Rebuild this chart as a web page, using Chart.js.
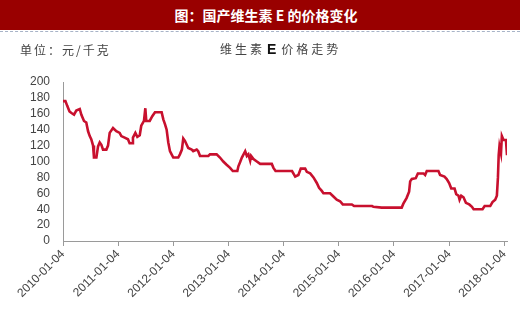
<!DOCTYPE html>
<html>
<head>
<meta charset="utf-8">
<script src="https://cdn.jsdelivr.net/npm/chart.js@4"></script>
<style>
  html, body { margin:0; padding:0; background:#fff; }
  #wrap { position:relative; width:520px; height:315px; overflow:hidden; }
  #banner { position:absolute; left:0; top:0; width:520px; height:30px; background:#990000;
    color:#fff; font:bold 14px "Noto Sans CJK SC", sans-serif; line-height:30px; text-align:center; text-indent:12px; }
  #dash { position:absolute; left:0; top:31px; width:520px; height:0; border-top:1px dashed #a8b4c8; }
  #unit { position:absolute; left:20px; top:41px; font:12px "Noto Sans CJK SC", sans-serif; color:#444; letter-spacing:2px; }
  #sub { position:absolute; left:220px; top:40px; font:12px "Noto Sans CJK SC", sans-serif; color:#444; letter-spacing:3px; }
  #sub b { font:bold 14px "Liberation Sans", Arial, sans-serif; color:#111; letter-spacing:0; margin:0 5px 0 2px; }
  canvas { position:absolute; left:0; top:0; }
</style>
</head>
<body>
<div id="wrap">
  <canvas id="c" width="520" height="315"></canvas>
  <div id="banner">图：国产维生素 E 的价格变化</div>
  <div id="dash"></div>
  <div id="unit">单位：元/千克</div>
  <div id="sub">维生素<b>E</b>价格走势</div>
</div>
<script>
const dates = [
 "2010-01-04","2010-01-20","2010-02-01","2010-02-16","2010-03-01","2010-03-18","2010-04-02","2010-04-25","2010-05-05","2010-05-23",
 "2010-06-07","2010-06-19","2010-06-30","2010-07-10","2010-07-22","2010-07-28","2010-08-13","2010-08-24","2010-09-04","2010-09-15",
 "2010-09-26","2010-10-18","2010-10-29","2010-11-09","2010-12-01","2010-12-23","2011-01-14","2011-01-25","2011-02-16","2011-03-10",
 "2011-03-21","2011-04-06","2011-04-12","2011-04-28","2011-05-11","2011-05-27","2011-06-06","2011-06-24","2011-07-03","2011-07-09",
 "2011-08-01","2011-08-18","2011-09-05","2011-10-19","2011-10-30","2011-11-10","2011-11-21","2011-12-02","2011-12-13","2011-12-24",
 "2012-01-04","2012-02-06","2012-02-17","2012-03-01","2012-03-10","2012-03-21","2012-04-02","2012-04-12","2012-05-05","2012-05-15",
 "2012-06-07","2012-06-17","2012-06-29","2012-08-23","2012-09-03","2012-10-17","2012-11-08","2012-11-30","2012-12-22","2013-01-14",
 "2013-02-01","2013-03-03","2013-03-10","2013-03-21","2013-04-02","2013-04-24","2013-05-05","2013-05-15","2013-05-27","2013-06-02",
 "2013-06-18","2013-07-10","2013-08-01","2013-10-17","2013-10-28","2013-11-11","2014-02-28","2014-03-21","2014-04-11","2014-04-27",
 "2014-05-26","2014-06-06","2014-06-28","2014-07-20","2014-08-11","2014-08-26","2014-09-13","2014-09-24","2014-11-07","2014-11-29",
 "2014-12-21","2015-01-12","2015-01-30","2015-03-31","2015-04-15","2015-08-12","2015-08-21","2015-10-15","2016-02-24","2016-03-06",
 "2016-03-27","2016-04-13","2016-04-20","2016-05-01","2016-05-27","2016-06-10","2016-07-17","2016-07-28","2016-08-08","2016-10-24",
 "2016-11-04","2016-12-03","2016-12-18","2017-01-03","2017-01-17","2017-02-08","2017-02-19","2017-03-06","2017-03-13","2017-03-24",
 "2017-04-08","2017-04-24","2017-05-16","2017-06-03","2017-06-14","2017-08-12","2017-08-26","2017-10-02","2017-10-17","2017-11-04",
 "2017-11-15","2017-11-22","2017-11-27","2017-12-02","2017-12-12","2017-12-18","2017-12-29","2018-01-14","2018-01-21"
];
const prices = [
 176,176,170,163,161,159,164,166,159,151,
 149,138,132,128,120,105,105,119,124,121,
 115,115,120,136,142,138,136,132,130,128,
 123,123,130,136,131,133,145,151,167,151,
 151,157,162,162,153,147,140,124,113,109,
 105,105,109,115,129,126,121,117,115,113,
 115,113,107,107,109,109,105,100,96,92,
 88,88,94,99,105,113,107,109,101,107,
 103,100,97,97,92,88,88,81,83,91,
 91,87,85,80,73,67,63,60,60,56,
 52,50,46,46,44,44,43,42,42,47,
 54,62,75,78,79,85,85,83,88,88,
 83,81,78,73,66,66,59,57,52,57,
 55,48,46,43,40,40,44,44,49,52,
 57,80,108,119,110,132,127,127,108
];
const tickLabels = ["2010-01-04","2011-01-04","2012-01-04","2013-01-04","2014-01-04","2015-01-04","2016-01-04","2017-01-04","2018-01-04"];
const yTicks = [0,20,40,60,80,100,120,140,160,180,200];

const toMs = s => Date.parse(s + "T00:00:00Z");
const points = dates.map((d, i) => ({ x: toMs(d), y: prices[i] }));
const tickVals = tickLabels.map(toMs);

new Chart(document.getElementById('c'), {
  type: 'line',
  data: { datasets: [{ data: points, borderColor: '#C8102E', borderWidth: 2.6, pointRadius: 0, tension: 0, fill: false }] },
  options: {
    responsive: false, animation: false,
    layout: { padding: { left: 0, right: 13, top: 82, bottom: 0 } },
    plugins: { legend: { display: false }, tooltip: { enabled: false }, title: { display: false } },
    scales: {
      x: {
        type: 'linear',
        min: tickVals[0],
        max: toMs(dates[dates.length - 1]),
        afterBuildTicks: s => { s.ticks = tickVals.map(v => ({ value: v })); },
        afterFit: s => { s.height = 74; },
        border: { display: true, color: '#9a9a9a', width: 1 },
        grid: { drawOnChartArea: false, drawTicks: true, tickLength: 5, color: '#9a9a9a' },
        ticks: {
          autoSkip: false, minRotation: 45, maxRotation: 45, padding: 1,
          color: '#444', font: { family: 'Liberation Sans', size: 12 },
          callback: (v) => { const i = tickVals.indexOf(v); return i >= 0 ? tickLabels[i] : ''; }
        }
      },
      y: {
        min: 0, max: 200,
        afterBuildTicks: s => { s.ticks = yTicks.map(v => ({ value: v })); },
        afterFit: s => { s.width = 63; },
        border: { display: true, color: '#9a9a9a', width: 1 },
        grid: { drawOnChartArea: false, drawTicks: false },
        ticks: { autoSkip: false, padding: 13, color: '#444', font: { family: 'Liberation Sans', size: 12 } }
      }
    }
  }
});
</script>
</body>
</html>
